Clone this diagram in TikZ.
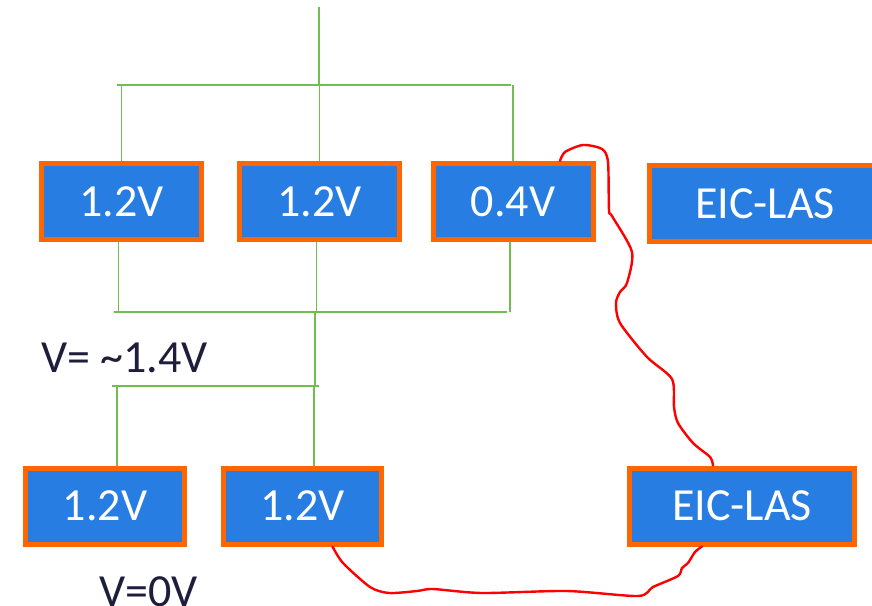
\documentclass[tikz,border=0pt]{standalone}
\usepackage{fontspec}
\setmainfont{Carlito}
\usetikzlibrary{positioning,calc}
\definecolor{cellblue}{RGB}{39,125,225}
\definecolor{cellorange}{RGB}{255,102,0}
\definecolor{busgreen}{RGB}{112,190,80}
\definecolor{wirered}{RGB}{255,0,0}
\definecolor{labelnavy}{RGB}{30,30,60}
\begin{document}
\begin{tikzpicture}[x=1pt,y=-1pt,
  cell/.style={draw=cellorange,fill=cellblue,line width=5pt,inner sep=0pt,minimum width=160pt,minimum height=76pt,text=white,font=\fontsize{46}{55}\selectfont},
  bus/.style={draw=busgreen,line width=1.3pt},
  wire/.style={draw=wirered,line width=2.4pt,line join=round,line cap=round},
  vlabel/.style={anchor=base west,inner sep=0pt,text=labelnavy,font=\fontsize{46}{55}\selectfont}]
\clip (0,0) rectangle (872,605);
% cells
\node[cell] (topA) at (121.5,201.5) {1.2V};
\node[cell] (topB) at (319.5,201.5) {1.2V};
\node[cell] (topC) at (513,201.5) {0.4V};
\node[cell,minimum width=231pt] (lasTop) at (765,203.5) {EIC-LAS};
\node[cell,minimum width=159pt] (botA) at (105,506) {1.2V};
\node[cell,minimum width=158pt] (botB) at (302.5,506) {1.2V};
\node[cell,minimum width=225pt] (lasBot) at (742,506) {EIC-LAS};
\node[vlabel] (vmid) at (41,372) {V= \char"7E 1.4V};
\node[vlabel] (vlow) at (99,606) {V=0V};
% green bus lines
\coordinate (feed) at (319,7);
\coordinate (topL) at (117,85);
\coordinate (topR) at (511,85);
\coordinate (midL) at (114,312);
\coordinate (midR) at (507,312);
\coordinate (drop) at (315,312);
\coordinate (lowL) at (112,386);
\coordinate (lowR) at (319,386);
\draw[bus] (feed) -- (feed |- topL);
\draw[bus] (topL) -- (topR);
\foreach \c in {topA,topB,topC} \draw[bus] (\c.north) -- (\c.north |- topL);
\foreach \c in {topA,topB,topC} \draw[bus] ([xshift=-3pt]\c.south) -- ([xshift=-3pt]\c.south |- midL);
\draw[bus] (midL) -- (midR);
\draw[bus] (drop) -- (drop |- lowL);
\draw[bus] (lowL) -- (lowR);
\draw[bus] ([xshift=12pt]botA.north) -- ([xshift=12pt]botA.north |- lowL);
\draw[bus] ([xshift=11.5pt]botB.north) -- ([xshift=11.5pt]botB.north |- lowL);
% red wires
\draw[wire] plot[smooth,tension=0.45] coordinates {([xshift=47pt]topC.north) (565,152) (583,145) (602,149) (608,162) (609,210) (612,216) (632,252) (627,283) (620,292) (616,303) (620,323) (647,357) (672,379) (674,407) (678,423) (693,443) (710,457) ([xshift=-29pt]lasBot.north)};
\draw[wire] plot[smooth,tension=0.45] coordinates {([xshift=-40pt]lasBot.south) (695,552) (688,563) (682,568) (678,576) (653,587) (638,596) (567,591) (482,593) (433,589) (417,591) (389,593) (370,587) (343,563) ([xshift=30pt]botB.south)};
\end{tikzpicture}
\end{document}
